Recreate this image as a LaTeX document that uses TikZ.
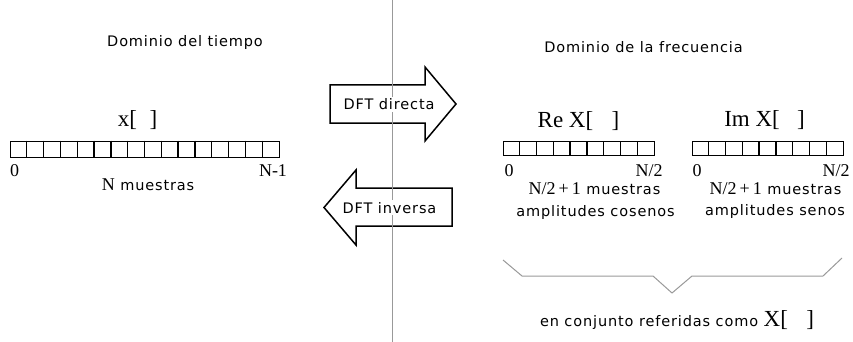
\documentclass[tikz,border=0pt]{standalone}
\usepackage{fontspec}
\usetikzlibrary{calc}
\setmainfont{Liberation Serif}
\newfontfamily\lab{DejaVu Sans}[LetterSpace=6]
\newcommand{\bigser}{\rmfamily\fontsize{23}{26}\selectfont}
\newcommand{\midser}{\rmfamily\fontsize{18}{20}\selectfont}
\newcommand{\gapx}[1]{\hspace*{#1em}}
\begin{document}
\begin{tikzpicture}[x=1pt,y=-1pt,
  sans/.style={font=\lab\fontsize{14.5}{16}\selectfont, inner sep=0pt, anchor=base},
  bigs/.style={font=\bigser, inner sep=0pt, anchor=base},
  idx/.style={font=\midser, inner sep=0pt, anchor=base},
  arr/.style={draw, line width=1.3pt, minimum height=16.5pt, inner sep=0pt},
  arrsm/.style={draw, line width=1.3pt, minimum height=13.5pt, inner sep=0pt},
  bigarrow/.style={draw, line width=1.5pt, line join=miter},
  guide/.style={draw=black!40, line width=1pt},
  arrowtext/.style={font=\lab\fontsize{14.5}{16}\selectfont, anchor=base, fill=white, inner sep=1.5pt}
]
\useasboundingbox (0,0) rectangle (853,342);

% headings
\node[sans] (ht) at (185,46.7) {Dominio del tiempo};
\node[sans] (hf) at (643.5,53) {Dominio de la frecuencia};

% time array
\node[bigs] (xl) at (137.5,126.7) {x[\gapx{0.55}]};
\node[arr, minimum width=269pt, anchor=north west] (tarr) at (10,140.5) {};
\foreach \i in {1,...,15} \draw[line width=1.3pt] ($(tarr.north west)+(\i*16.8125,0)$) -- ($(tarr.south west)+(\i*16.8125,0)$);
\node[idx] (t0) at (14.5,176) {0};
\node[idx] (tn) at (273,176) {N-1};
\node[sans] (tm) at (148,190) {{\midser N} muestras};

% arrows
\draw[bigarrow] (330,85) -- (425,85) -- (425,67) -- (456,104) -- (425,141) -- (425,123) -- (330,123) -- cycle;
\draw[bigarrow] (452,188) -- (356,188) -- (356,170) -- (324,207.5) -- (356,245) -- (356,226) -- (452,226) -- cycle;
\coordinate (vt) at (392,0);
\coordinate (vb) at (392,342);
\draw[guide] (vt) -- (vb);
\node[arrowtext] (fd) at (389,110) {DFT directa};
\node[arrowtext] (fi) at (389.5,213) {DFT inversa};

% Re array
\node[bigs] (rel) at (578.5,127.3) {Re X[\gapx{0.8}]};
\node[arrsm, minimum width=151pt, anchor=north west] (rarr) at (503,141) {};
\foreach \i in {1,...,8} \draw[line width=1.3pt] ($(rarr.north west)+(\i*16.778,0)$) -- ($(rarr.south west)+(\i*16.778,0)$);
\node[idx] (r0) at (509,176) {0};
\node[idx] (rn) at (649,176) {N/2};
\node[sans] (rm) at (594.5,194) {{\midser N/2\hspace{3pt}+\hspace{3pt}1} muestras};
\node[sans] (rc) at (595.5,216) {amplitudes cosenos};

% Im array
\node[bigs] (iml) at (764.5,127) {Im X[\gapx{0.75}]};
\node[arrsm, minimum width=151pt, anchor=north west] (iarr) at (692,141) {};
\foreach \i in {1,...,8} \draw[line width=1.3pt] ($(iarr.north west)+(\i*16.778,0)$) -- ($(iarr.south west)+(\i*16.778,0)$);
\node[idx] (i0) at (697,176) {0};
\node[idx] (in) at (836,176) {N/2};
\node[sans] (im) at (775.5,194) {{\midser N/2\hspace{3pt}+\hspace{3pt}1} muestras};
\node[sans] (is) at (775,215) {amplitudes senos};

% brace
\coordinate (b1) at (503,260);
\coordinate (b2) at (522,276);
\coordinate (b3) at (653,276);
\coordinate (b4) at (672,293);
\coordinate (b5) at (692,276);
\coordinate (b6) at (823,276);
\coordinate (b7) at (842,258);
\draw[guide, line join=miter] (b1) -- (b2) -- (b3) -- (b4) -- (b5) -- (b6) -- (b7);

\node[sans] (bt) at (677,326) {en conjunto referidas como {\bigser X[\gapx{0.8}]}};
\end{tikzpicture}
\end{document}
